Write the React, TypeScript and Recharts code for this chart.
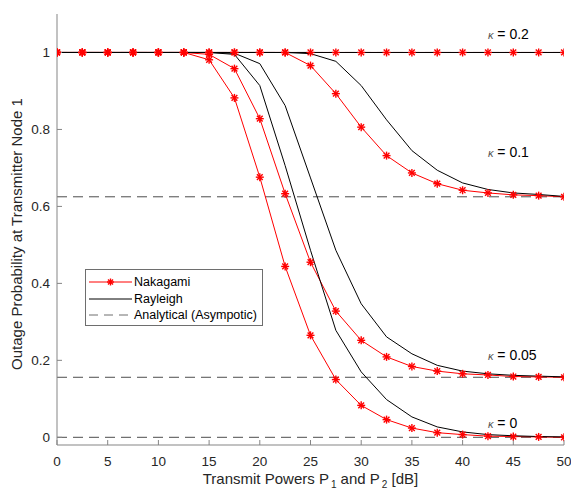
import { LineChart, Line, XAxis, YAxis, ReferenceLine, ReferenceDot, Legend } from "recharts";

const power = [0, 2.5, 5, 7.5, 10, 12.5, 15, 17.5, 20, 22.5, 25, 27.5, 30, 32.5, 35, 37.5, 40, 42.5, 45, 47.5, 50];

const nakagamiK0 = [1, 1, 1, 1, 1, 1, 0.981, 0.882, 0.676, 0.444, 0.265, 0.15, 0.083, 0.046, 0.024, 0.012, 0.007, 0.003, 0.002, 0.001, 0];
const rayleighK0 = [1, 1, 1, 1, 1, 1, 1, 0.995, 0.914, 0.706, 0.486, 0.278, 0.17, 0.098, 0.053, 0.027, 0.014, 0.007, 0.004, 0.002, 0.001];
const nakagamiK05 = [1, 1, 1, 1, 1, 1, 0.995, 0.958, 0.828, 0.633, 0.455, 0.328, 0.252, 0.209, 0.184, 0.172, 0.165, 0.162, 0.158, 0.157, 0.156];
const rayleighK05 = [1, 1, 1, 1, 1, 1, 1, 0.998, 0.971, 0.862, 0.674, 0.486, 0.347, 0.261, 0.217, 0.187, 0.172, 0.165, 0.161, 0.159, 0.157];
const nakagamiK1 = [1, 1, 1, 1, 1, 1, 1, 1, 1, 1, 0.966, 0.893, 0.806, 0.732, 0.687, 0.659, 0.642, 0.635, 0.63, 0.628, 0.625];
const rayleighK1 = [1, 1, 1, 1, 1, 1, 1, 1, 1, 1, 0.997, 0.977, 0.914, 0.825, 0.745, 0.694, 0.661, 0.644, 0.635, 0.631, 0.626];
const nakagamiK2 = [1, 1, 1, 1, 1, 1, 1, 1, 1, 1, 1, 1, 1, 1, 1, 1, 1, 1, 1, 1, 1];
const rayleighK2 = [1, 1, 1, 1, 1, 1, 1, 1, 1, 1, 1, 1, 1, 1, 1, 1, 1, 1, 1, 1, 1];

const asymptotes = [0, 0.156, 0.625, 1];

const xTicks = [0, 5, 10, 15, 20, 25, 30, 35, 40, 45, 50];
const yTicks = [0, 0.2, 0.4, 0.6, 0.8, 1];

const kappaText = ["0.2", "0.1", "0.05", "0"];
const kappaAnchorY = [1.047, 0.741, 0.213, 0.036];
const kappaAnchorX = 42.5;

const data = power.map((p, i) => ({
  p,
  n0: nakagamiK0[i],
  r0: rayleighK0[i],
  n05: nakagamiK05[i],
  r05: rayleighK05[i],
  n1: nakagamiK1[i],
  r1: rayleighK1[i],
  n2: nakagamiK2[i],
  r2: rayleighK2[i],
}));

const FONT = "'Liberation Sans', Arial, Helvetica, sans-serif";
const AXIS = "#858585";
const TXT = "#262626";

function Star({ cx, cy, r = 4 }: { cx: number; cy: number; r?: number }) {
  const d = r * 0.72;
  return (
    <g stroke="#ff0000" strokeWidth={1.4}>
      <line x1={cx - r} y1={cy} x2={cx + r} y2={cy} />
      <line x1={cx} y1={cy - r} x2={cx} y2={cy + r} />
      <line x1={cx - d} y1={cy - d} x2={cx + d} y2={cy + d} />
      <line x1={cx - d} y1={cy + d} x2={cx + d} y2={cy - d} />
    </g>
  );
}

const starDot = (props: any) => {
  const { cx, cy, index } = props;
  if (cx == null || cy == null) return <g key={`s-${index}`} />;
  return <Star key={`s-${index}-${cx}`} cx={cx} cy={cy} />;
};

function LegendBox() {
  const rows = [
    { label: "Nakagami", y: 13 },
    { label: "Rayleigh", y: 30 },
    { label: "Analytical (Asympotic)", y: 46 },
  ];
  return (
    <svg width={178} height={57} style={{ display: "block" }}>
      <rect x={0.5} y={0.5} width={177} height={56} fill="#fff" stroke="#6e6e6e" />
      <line x1={4} x2={47} y1={rows[0].y} y2={rows[0].y} stroke="#ff0000" />
      <Star cx={25.5} cy={rows[0].y} r={3.5} />
      <line x1={4} x2={47} y1={rows[1].y} y2={rows[1].y} stroke="#000" />
      <line x1={4} x2={47} y1={rows[2].y} y2={rows[2].y} stroke="#6e6e6e" strokeDasharray="9 6" />
      {rows.map((r) => (
        <text key={r.label} x={49} y={r.y} dy="0.35em" fontSize={12.5} fontFamily={FONT} fill="#000">
          {r.label}
        </text>
      ))}
    </svg>
  );
}

const kappaLabel = (text: string) => (props: any) => {
  const { x, y } = props.viewBox;
  return (
    <text x={x} y={y} dy="0.35em" fontFamily={FONT} fontSize={14} fill="#000">
      <tspan fontSize={11} fill="#555" fontStyle="italic">κ</tspan>
      <tspan> = {text}</tspan>
    </text>
  );
};

const xLabel = () => (
  <text x={310.5} y={484} textAnchor="middle" fontFamily={FONT} fontSize={15} fill={TXT}>
    Transmit Powers P
    <tspan dx={2} dy={4} fontSize={10}>1</tspan>
    <tspan dy={-4}> and P</tspan>
    <tspan dx={2} dy={4} fontSize={10}>2</tspan>
    <tspan dy={-4}> [dB]</tspan>
  </text>
);

const yLabel = () => (
  <text transform="translate(22,234) rotate(-90)" textAnchor="middle" fontFamily={FONT} fontSize={15} fill={TXT}>
    Outage Probability at Transmitter Node 1
  </text>
);

export default function App() {
  const tickStyle = { fontSize: 13.5, fontFamily: FONT, fill: TXT };
  return (
    <div style={{ position: "absolute", left: 0, top: 0, width: 571, height: 491, background: "#fff" }}>
      <LineChart width={571} height={491} data={data} margin={{ top: 14, right: 7, bottom: 0, left: 0 }}>
        <XAxis
          xAxisId="b"
          dataKey="p"
          type="number"
          domain={[0, 50]}
          ticks={xTicks}
          allowDataOverflow
          height={46}
          stroke={AXIS}
          tickSize={-5}
          tickMargin={16}
          tick={tickStyle}
          label={xLabel}
        />
        <XAxis
          xAxisId="t"
          orientation="top"
          dataKey="p"
          type="number"
          domain={[0, 50]}
          ticks={xTicks}
          allowDataOverflow
          height={0}
          stroke={AXIS}
          tickSize={-5}
          tick={false}
        />
        <YAxis
          yAxisId="l"
          type="number"
          domain={[-0.02, 1.1]}
          ticks={yTicks}
          allowDataOverflow
          width={57}
          stroke={AXIS}
          tickSize={-5}
          tickMargin={12}
          tick={tickStyle}
          label={yLabel}
        />
        <YAxis
          yAxisId="r"
          orientation="right"
          type="number"
          domain={[-0.02, 1.1]}
          ticks={yTicks}
          allowDataOverflow
          width={0}
          stroke={AXIS}
          tickSize={-5}
          tick={false}
        />
        {asymptotes.map((a) => (
          <ReferenceLine key={a} xAxisId="b" yAxisId="l" y={a} stroke="#4d4d4d" strokeDasharray="10 6" />
        ))}
        {["n0", "n05", "n1", "n2"].map((k) => (
          <Line
            key={k}
            xAxisId="b"
            yAxisId="l"
            dataKey={k}
            stroke="#ff0000"
            strokeWidth={1}
            dot={starDot}
            activeDot={false}
            isAnimationActive={false}
          />
        ))}
        {["r0", "r05", "r1", "r2"].map((k) => (
          <Line
            key={k}
            xAxisId="b"
            yAxisId="l"
            dataKey={k}
            stroke="#000"
            strokeWidth={1}
            dot={false}
            activeDot={false}
            isAnimationActive={false}
          />
        ))}
        {kappaText.map((t, i) => (
          <ReferenceDot
            key={t}
            xAxisId="b"
            yAxisId="l"
            x={kappaAnchorX}
            y={kappaAnchorY[i]}
            r={0}
            fill="none"
            stroke="none"
            label={kappaLabel(t)}
          />
        ))}
        <Legend
          layout="horizontal"
          verticalAlign="middle"
          align="center"
          content={() => <LegendBox />}
          wrapperStyle={{ position: "absolute", left: 85, top: 269, width: 178, height: 57 }}
        />
      </LineChart>
    </div>
  );
}
